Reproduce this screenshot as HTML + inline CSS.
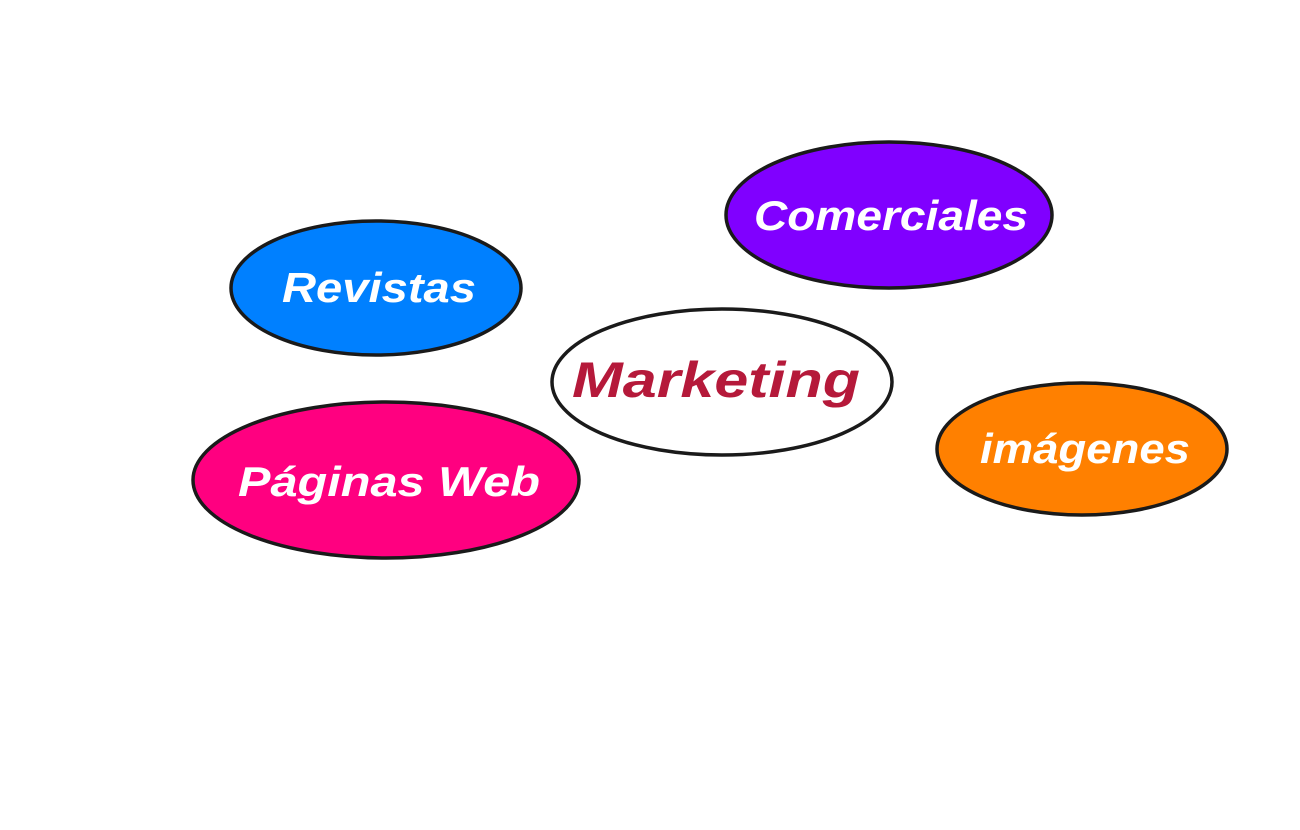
<!DOCTYPE html>
<html><head><meta charset="utf-8"><style>
html,body{margin:0;padding:0;background:#fff;}
svg{display:block}
text{font-family:"Liberation Sans","DejaVu Sans",sans-serif;font-style:italic;font-weight:bold;}
</style></head><body>
<svg width="1300" height="830" viewBox="0 0 1300 830" xmlns="http://www.w3.org/2000/svg">
<g stroke="#1a1a1a" stroke-width="3.5">
<ellipse cx="376" cy="288" rx="145" ry="67" fill="#0080ff"/>
<ellipse cx="889" cy="215" rx="163" ry="73" fill="#8000ff"/>
<ellipse cx="722" cy="382" rx="170" ry="73" fill="#ffffff"/>
<ellipse cx="386" cy="480" rx="193" ry="78" fill="#ff0080"/>
<ellipse cx="1082" cy="449" rx="145" ry="66" fill="#ff8000"/>
</g>
<g font-size="42" fill="#fff">
<text x="282" y="302" textLength="194" lengthAdjust="spacingAndGlyphs">Revistas</text>
<text x="754" y="230" textLength="274" lengthAdjust="spacingAndGlyphs">Comerciales</text>
<text x="238" y="496" textLength="302" lengthAdjust="spacingAndGlyphs">Páginas Web</text>
<text x="980" y="463" textLength="210" lengthAdjust="spacingAndGlyphs">imágenes</text>
</g>
<text x="572" y="397" font-size="50" fill="#b5193a" textLength="288" lengthAdjust="spacingAndGlyphs">Marketing</text>
</svg>
</body></html>
